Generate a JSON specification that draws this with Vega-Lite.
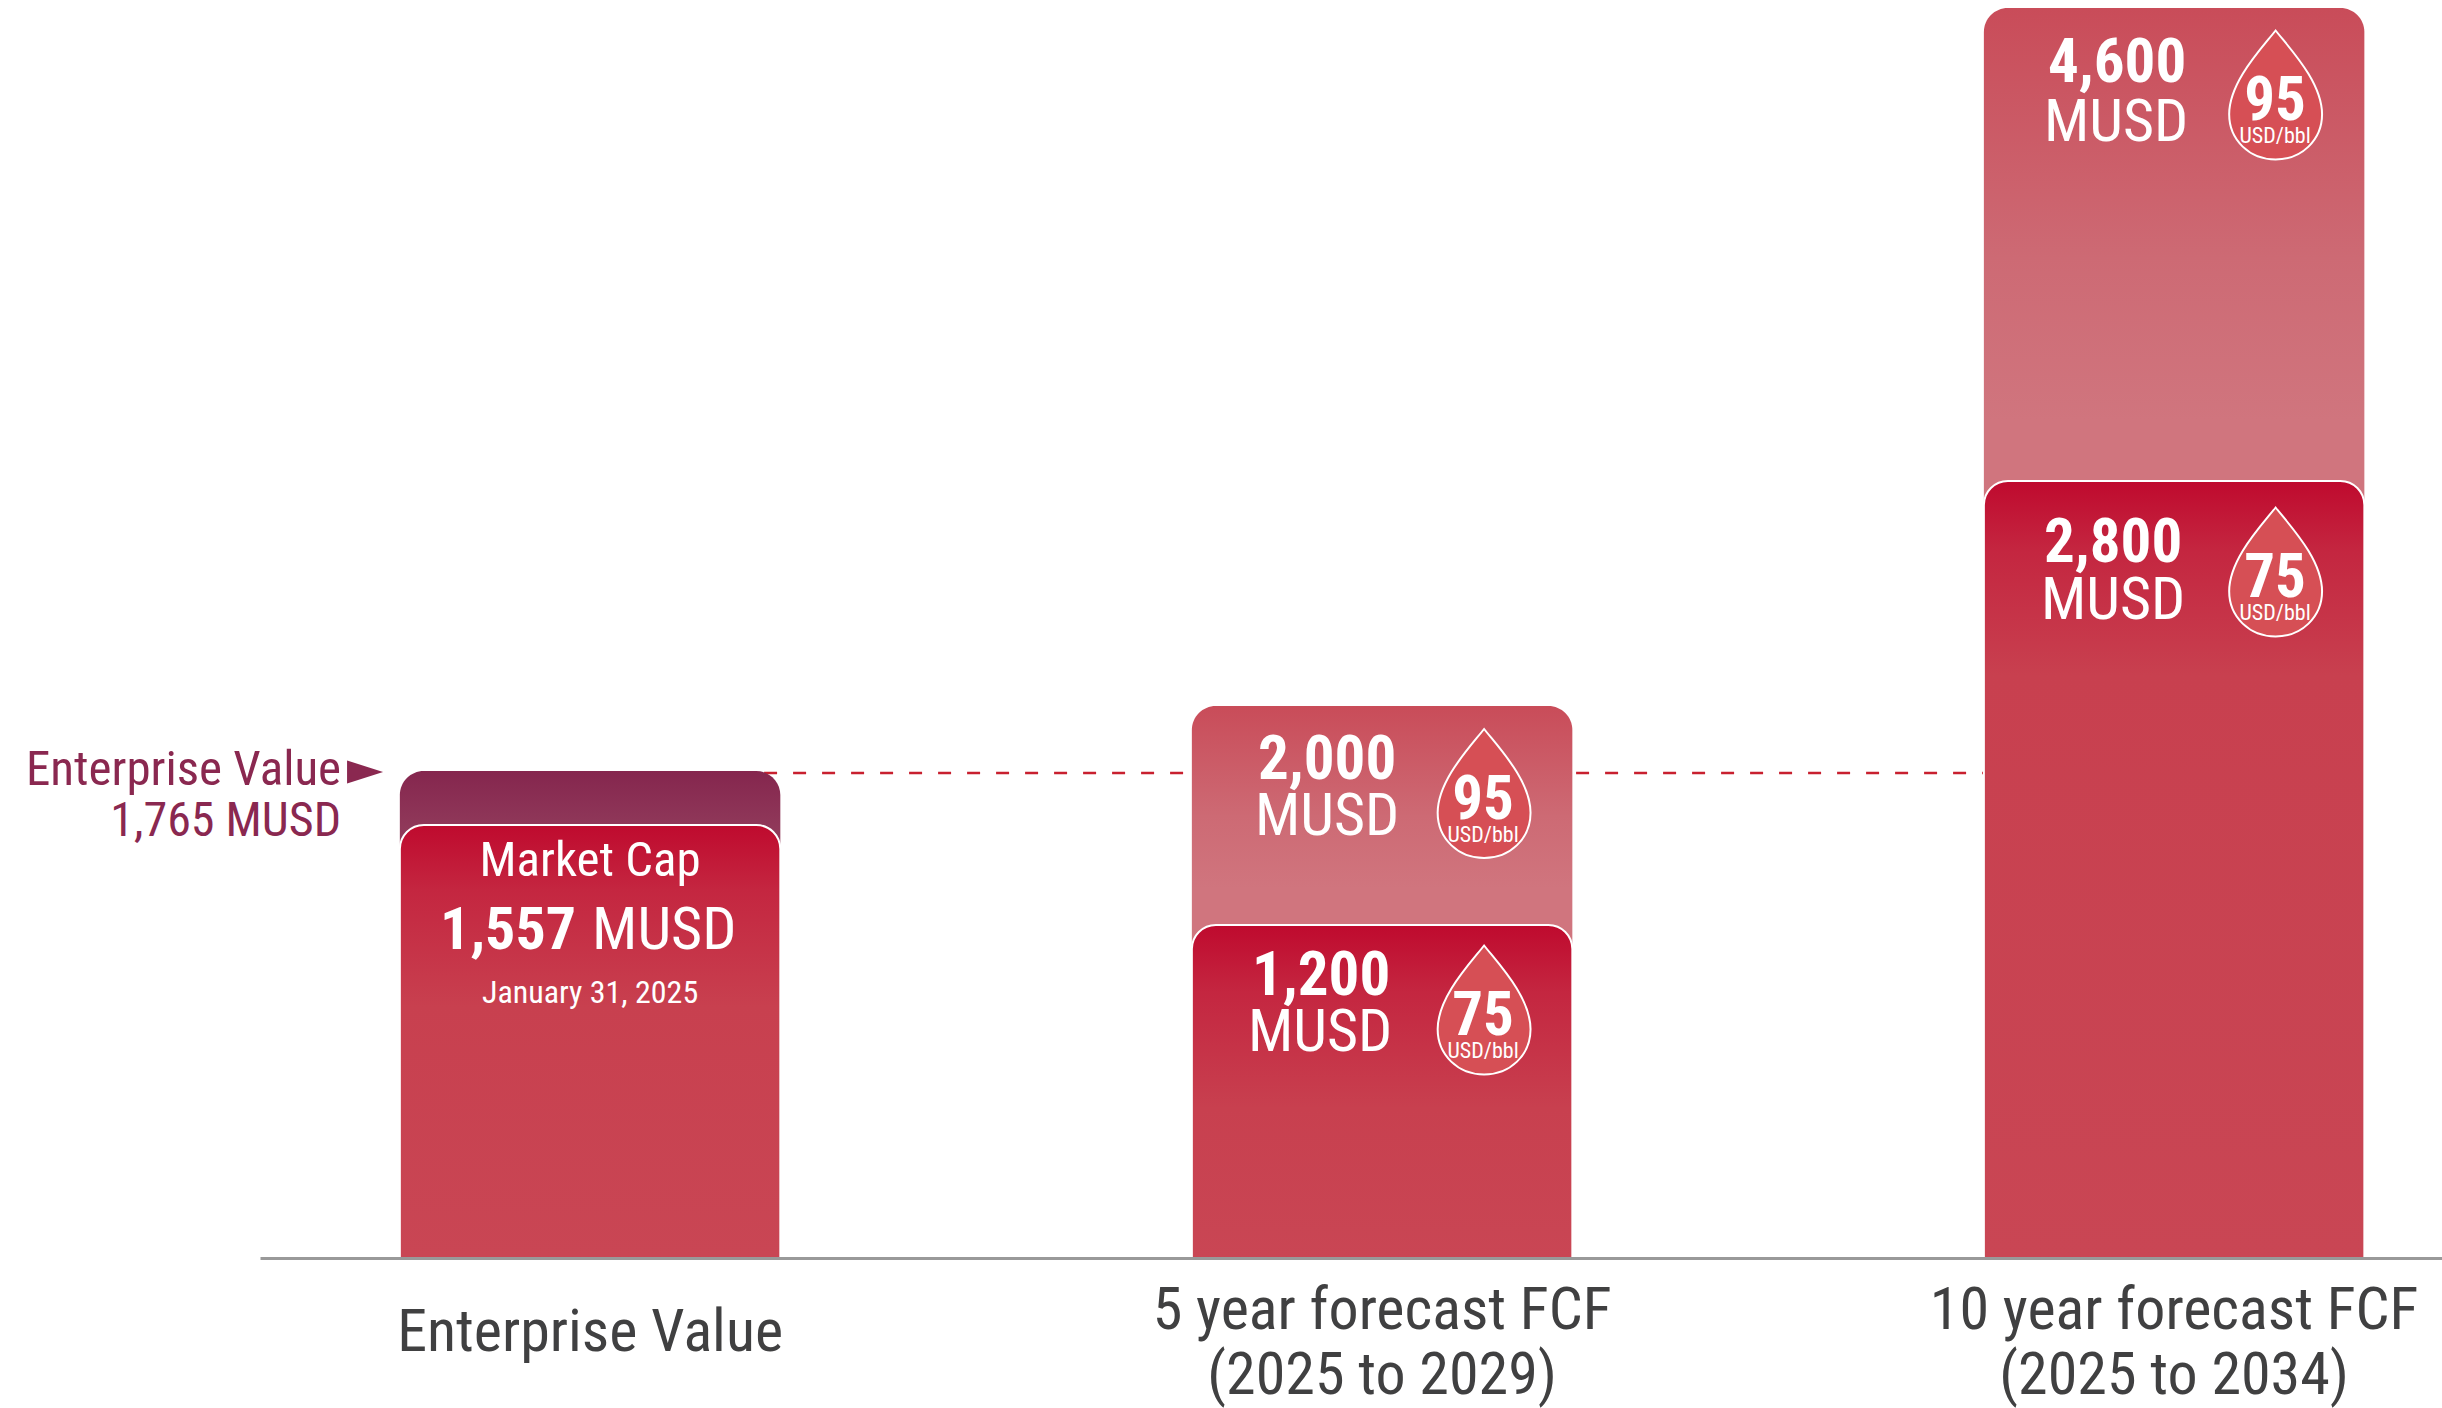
{"$schema":"https://vega.github.io/schema/vega-lite/v6.json","autosize":"none","width":2182,"height":1258,"padding":{"left":260,"top":0,"right":0,"bottom":150},"background":"#ffffff","config":{"view":{"stroke":null},"text":{"font":"Roboto Condensed","color":"#ffffff","baseline":"alphabetic"}},
"datasets":{"rows":[
{"id":"ev","category":"Enterprise Value","series":"Enterprise Value","value":1765,"title":"Enterprise Value","amount":"1,765 MUSD","arrow":"arrow"},
{"id":"mc","category":"Enterprise Value","series":"Market Cap","value":1557,"title":"Market Cap","amount":"1,557","unit":"MUSD","date":"January 31, 2025"},
{"id":"5y95","category":"5 year forecast FCF","series":"95 USD/bbl","value":2000,"amount":"2,000","unit":"MUSD","price":"95","priceUnit":"USD/bbl"},
{"id":"5y75","category":"5 year forecast FCF","series":"75 USD/bbl","value":1200,"amount":"1,200","unit":"MUSD","price":"75","priceUnit":"USD/bbl"},
{"id":"10y95","category":"10 year forecast FCF","series":"95 USD/bbl","value":4600,"amount":"4,600","unit":"MUSD","price":"95","priceUnit":"USD/bbl"},
{"id":"10y75","category":"10 year forecast FCF","series":"75 USD/bbl","value":2800,"amount":"2,800","unit":"MUSD","price":"75","priceUnit":"USD/bbl"}
]},
"data":{"name":"rows"},
"encoding":{
"x":{"field":"category","type":"nominal","scale":{"type":"band","domain":["Enterprise Value","5 year forecast FCF","10 year forecast FCF"],"paddingInner":0.5196,"paddingOuter":0.1373,"align":0.643},"axis":{"title":null,"ticks":false,"domainColor":"#999999","domainWidth":3,"labelAngle":0,"labelFont":"Roboto Condensed","labelFontSize":60,"labelColor":"#404041","labelLimit":0,"labelLineHeight":65,"labelBaseline":"top","labelPadding":{"condition":{"test":"datum.label==='Enterprise Value'","value":45},"value":23},"labelExpr":"datum.label==='5 year forecast FCF'?['5 year forecast FCF','(2025 to 2029)']:datum.label==='10 year forecast FCF'?['10 year forecast FCF','(2025 to 2034)']:datum.label","zindex":1}},
"y":{"field":"value","type":"quantitative","stack":null,"scale":{"domain":[0,1200,1557,1765,2000,2800,4600],"range":[1258,925,825,771,706,481,8],"nice":false,"zero":false},"axis":null}
},
"layer":[
{"data":{"values":[{"category":"Enterprise Value","value":1765},{"category":"10 year forecast FCF","value":1765}]},"mark":{"type":"line","stroke":"#C8202F","strokeWidth":2.5,"strokeDash":[13,16],"yOffset":2}},
{"transform":[{"filter":"datum.id==='ev'"}],"mark":{"type":"bar","cornerRadiusTopLeft":24,"cornerRadiusTopRight":24,"fill":{"gradient":"linear","x1":0,"y1":0,"x2":0,"y2":1,"stops":[{"offset":0,"color":"#85264E"},{"offset":0.12,"color":"#90395A"},{"offset":1,"color":"#90395A"}]}}},
{"transform":[{"filter":"datum.id==='5y95'||datum.id==='10y95'"}],"mark":{"type":"bar","cornerRadiusTopLeft":24,"cornerRadiusTopRight":24,"fill":{"gradient":"linear","x1":0,"y1":0,"x2":0,"y2":1,"stops":[{"offset":0,"color":"#C94C59"},{"offset":0.2,"color":"#CD6A74"},{"offset":0.33,"color":"#D0757E"},{"offset":1,"color":"#D0757E"}]}}},
{"transform":[{"filter":"datum.id==='mc'"}],"mark":{"type":"bar","stroke":"#ffffff","strokeWidth":2,"cornerRadiusTopLeft":24,"cornerRadiusTopRight":24,"fill":{"gradient":"linear","x1":0,"y1":0,"x2":0,"y2":1,"stops":[{"offset":0,"color":"#BF0A2E"},{"offset":0.15,"color":"#C42640"},{"offset":0.42,"color":"#C8404F"},{"offset":1,"color":"#C94654"}]}}},
{"transform":[{"filter":"datum.id==='5y75'"}],"mark":{"type":"bar","stroke":"#ffffff","strokeWidth":2,"cornerRadiusTopLeft":24,"cornerRadiusTopRight":24,"fill":{"gradient":"linear","x1":0,"y1":0,"x2":0,"y2":1,"stops":[{"offset":0,"color":"#BF0A2E"},{"offset":0.2,"color":"#C42640"},{"offset":0.55,"color":"#C8404F"},{"offset":1,"color":"#C94654"}]}}},
{"transform":[{"filter":"datum.id==='10y75'"}],"mark":{"type":"bar","stroke":"#ffffff","strokeWidth":2,"cornerRadiusTopLeft":24,"cornerRadiusTopRight":24,"fill":{"gradient":"linear","x1":0,"y1":0,"x2":0,"y2":1,"stops":[{"offset":0,"color":"#BF0A2E"},{"offset":0.09,"color":"#C42640"},{"offset":0.25,"color":"#C8404F"},{"offset":1,"color":"#C94654"}]}}},
{"transform":[{"filter":"datum.id==='ev'"}],"layer":[
{"mark":{"type":"text","align":"right","dx":-249,"dy":14,"fontSize":49,"color":"#8A2850"},"encoding":{"text":{"field":"title"}}},
{"mark":{"type":"text","align":"right","dx":-249,"dy":65,"fontSize":48,"color":"#8A2850"},"encoding":{"text":{"field":"amount"}}},
{"mark":{"type":"point","filled":true,"fill":"#8A2850","opacity":1,"strokeWidth":0,"size":1296,"shape":"M-1,-0.64 L1,0 L-1,0.64 Z","xOffset":-225,"yOffset":1}}
]},
{"transform":[{"filter":"datum.id==='mc'"}],"layer":[
{"mark":{"type":"text","align":"center","dy":51,"fontSize":49},"encoding":{"text":{"field":"title"}}},
{"mark":{"type":"text","align":"right","dx":-14,"dy":124,"fontSize":60,"fontWeight":"bold"},"encoding":{"text":{"field":"amount"}}},
{"mark":{"type":"text","align":"left","dx":2,"dy":124,"fontSize":60},"encoding":{"text":{"field":"unit"}}},
{"mark":{"type":"text","align":"center","dy":178,"fontSize":32},"encoding":{"text":{"field":"date"}}}
]},
{"transform":[{"filter":"datum.id==='5y95'"}],"layer":[
{"mark":{"type":"text","align":"center","dx":-55,"dy":73,"fontSize":61,"fontWeight":"bold"},"encoding":{"text":{"field":"amount"}}},
{"mark":{"type":"text","align":"center","dx":-55,"dy":129,"fontSize":60},"encoding":{"text":{"field":"unit"}}},
{"mark":{"type":"point","filled":true,"fill":"#D64F55","stroke":"#ffffff","strokeWidth":2,"opacity":1,"size":16641,"shape":"M0,-1 C0.22,-0.72 0.72,-0.2 0.72,0.3 C0.72,0.7 0.4,1 0,1 C-0.4,1 -0.72,0.7 -0.72,0.3 C-0.72,-0.2 -0.22,-0.72 0,-1 Z","xOffset":102,"yOffset":87.5}},
{"mark":{"type":"text","align":"center","dx":101,"dy":113,"fontSize":61,"fontWeight":"bold"},"encoding":{"text":{"field":"price"}}},
{"mark":{"type":"text","align":"center","dx":101,"dy":136,"fontSize":22},"encoding":{"text":{"field":"priceUnit"}}}
]},
{"transform":[{"filter":"datum.id==='5y75'"}],"layer":[
{"mark":{"type":"text","align":"center","dx":-61,"dy":70,"fontSize":61,"fontWeight":"bold"},"encoding":{"text":{"field":"amount"}}},
{"mark":{"type":"text","align":"center","dx":-62,"dy":126,"fontSize":60},"encoding":{"text":{"field":"unit"}}},
{"mark":{"type":"point","filled":true,"fill":"#D64F55","stroke":"#ffffff","strokeWidth":2,"opacity":1,"size":16641,"shape":"M0,-1 C0.22,-0.72 0.72,-0.2 0.72,0.3 C0.72,0.7 0.4,1 0,1 C-0.4,1 -0.72,0.7 -0.72,0.3 C-0.72,-0.2 -0.22,-0.72 0,-1 Z","xOffset":102,"yOffset":85}},
{"mark":{"type":"text","align":"center","dx":101,"dy":110,"fontSize":61,"fontWeight":"bold"},"encoding":{"text":{"field":"price"}}},
{"mark":{"type":"text","align":"center","dx":101,"dy":133,"fontSize":22},"encoding":{"text":{"field":"priceUnit"}}}
]},
{"transform":[{"filter":"datum.id==='10y95'"}],"layer":[
{"mark":{"type":"text","align":"center","dx":-57,"dy":74,"fontSize":61,"fontWeight":"bold"},"encoding":{"text":{"field":"amount"}}},
{"mark":{"type":"text","align":"center","dx":-58,"dy":133,"fontSize":60},"encoding":{"text":{"field":"unit"}}},
{"mark":{"type":"point","filled":true,"fill":"#D64F55","stroke":"#ffffff","strokeWidth":2,"opacity":1,"size":16641,"shape":"M0,-1 C0.22,-0.72 0.72,-0.2 0.72,0.3 C0.72,0.7 0.4,1 0,1 C-0.4,1 -0.72,0.7 -0.72,0.3 C-0.72,-0.2 -0.22,-0.72 0,-1 Z","xOffset":101.5,"yOffset":87}},
{"mark":{"type":"text","align":"center","dx":101,"dy":112,"fontSize":61,"fontWeight":"bold"},"encoding":{"text":{"field":"price"}}},
{"mark":{"type":"text","align":"center","dx":101,"dy":135,"fontSize":22},"encoding":{"text":{"field":"priceUnit"}}}
]},
{"transform":[{"filter":"datum.id==='10y75'"}],"layer":[
{"mark":{"type":"text","align":"center","dx":-61,"dy":81,"fontSize":61,"fontWeight":"bold"},"encoding":{"text":{"field":"amount"}}},
{"mark":{"type":"text","align":"center","dx":-61,"dy":138,"fontSize":60},"encoding":{"text":{"field":"unit"}}},
{"mark":{"type":"point","filled":true,"fill":"#D64F55","stroke":"#ffffff","strokeWidth":2,"opacity":1,"size":16641,"shape":"M0,-1 C0.22,-0.72 0.72,-0.2 0.72,0.3 C0.72,0.7 0.4,1 0,1 C-0.4,1 -0.72,0.7 -0.72,0.3 C-0.72,-0.2 -0.22,-0.72 0,-1 Z","xOffset":101.5,"yOffset":91}},
{"mark":{"type":"text","align":"center","dx":101,"dy":116,"fontSize":61,"fontWeight":"bold"},"encoding":{"text":{"field":"price"}}},
{"mark":{"type":"text","align":"center","dx":101,"dy":139,"fontSize":22},"encoding":{"text":{"field":"priceUnit"}}}
]}
]}
